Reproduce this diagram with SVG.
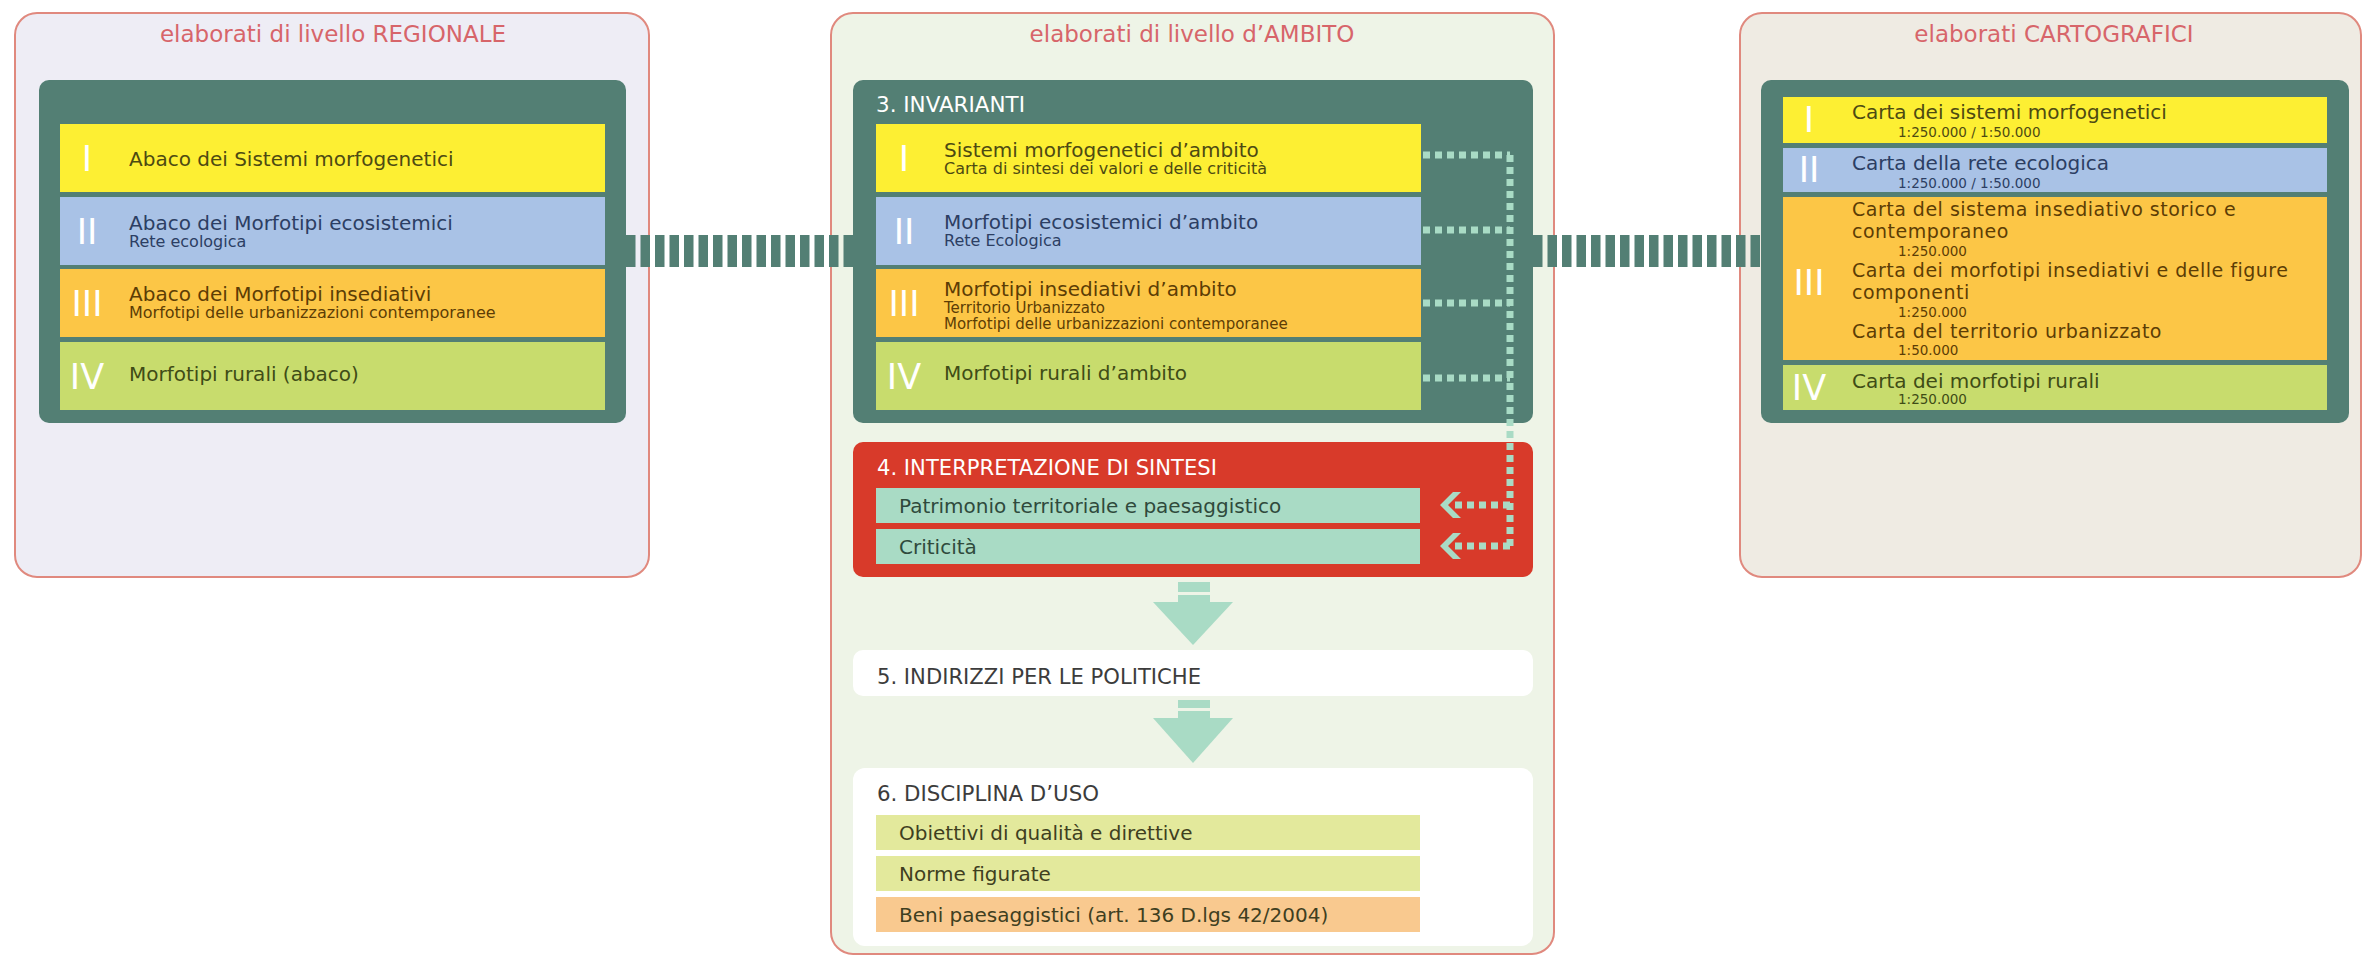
<svg xmlns="http://www.w3.org/2000/svg" width="2364" height="958" viewBox="0 0 2364 958">
<defs>
<style>
text{font-family:"DejaVu Sans","Liberation Sans",sans-serif;}
.panel{stroke:#e0897e;stroke-width:2;}
.ttl{font-size:23px;fill:#d7656a;text-anchor:middle;}
.dark{fill:#537f74;}
.yel{fill:#fdef33;}
.blu{fill:#a9c2e6;}
.ora{fill:#fcc646;}
.grn{fill:#c8dc6d;}
.mint{fill:#a9dbc5;}
.num{font-size:35px;fill:#ffffff;text-anchor:middle;}
.m{font-size:20px;}
.m3{font-size:19px;letter-spacing:0.5px;}
.s{font-size:16px;}
.s2{font-size:15px;}
.sc{font-size:13.5px;}
.hd{font-size:21px;fill:#ffffff;}
.hk{font-size:21px;fill:#3c3c3c;}
.ty{fill:#4d4a12;}
.tb{fill:#2c3e63;}
.to{fill:#5c3d05;}
.tg{fill:#3f4c16;}
.tm{fill:#2f4a3c;}
.tl{fill:#3f3f1f;}
.bar{stroke:#537f74;stroke-width:32;stroke-dasharray:9.5 5;fill:none;}
.md{stroke:#a9dbc5;stroke-width:7;stroke-dasharray:7 5;fill:none;}
</style>
</defs>
<rect width="2364" height="958" fill="#ffffff"/>

<g id="panel-regionale">
<rect class="panel" x="15" y="13" width="634" height="564" rx="22" fill="#eeedf5"/>
<text class="ttl" x="333" y="42">elaborati di livello REGIONALE</text>
<rect class="dark" x="39" y="80" width="587" height="343" rx="10"/>
<rect class="yel" x="60" y="124" width="545" height="68"/>
<rect class="blu" x="60" y="197" width="545" height="68"/>
<rect class="ora" x="60" y="269" width="545" height="68"/>
<rect class="grn" x="60" y="342" width="545" height="68"/>
<text class="num" x="87" y="171">I</text>
<text class="num" x="87" y="244">II</text>
<text class="num" x="87" y="316">III</text>
<text class="num" x="87" y="389">IV</text>
<text class="m ty" x="129" y="166">Abaco dei Sistemi morfogenetici</text>
<text class="m tb" x="129" y="230">Abaco dei Morfotipi ecosistemici</text>
<text class="s tb" x="129" y="247">Rete ecologica</text>
<text class="m to" x="129" y="301">Abaco dei Morfotipi insediativi</text>
<text class="s to" x="129" y="318">Morfotipi delle urbanizzazioni contemporanee</text>
<text class="m tg" x="129" y="381">Morfotipi rurali (abaco)</text>
</g>

<g id="panel-ambito">
<rect class="panel" x="831" y="13" width="723" height="941" rx="22" fill="#eef4e7"/>
<text class="ttl" x="1192" y="42">elaborati di livello d’AMBITO</text>
</g>

<g id="invarianti">
<rect class="dark" x="853" y="80" width="680" height="343" rx="10"/>
<text class="hd" x="876" y="112" textLength="149" lengthAdjust="spacingAndGlyphs">3. INVARIANTI</text>
<rect class="yel" x="876" y="124" width="545" height="68"/>
<rect class="blu" x="876" y="197" width="545" height="68"/>
<rect class="ora" x="876" y="269" width="545" height="68"/>
<rect class="grn" x="876" y="342" width="545" height="68"/>
<text class="num" x="904" y="171">I</text>
<text class="num" x="904" y="244">II</text>
<text class="num" x="904" y="316">III</text>
<text class="num" x="904" y="389">IV</text>
<text class="m ty" x="944" y="157">Sistemi morfogenetici d’ambito</text>
<text class="s ty" x="944" y="174">Carta di sintesi dei valori e delle criticità</text>
<text class="m tb" x="944" y="229">Morfotipi ecosistemici d’ambito</text>
<text class="s tb" x="944" y="246">Rete Ecologica</text>
<text class="m to" x="944" y="296">Morfotipi insediativi d’ambito</text>
<text class="s2 to" x="944" y="313">Territorio Urbanizzato</text>
<text class="s2 to" x="944" y="329">Morfotipi delle urbanizzazioni contemporanee</text>
<text class="m tg" x="944" y="380">Morfotipi rurali d’ambito</text>
</g>

<g id="interpretazione">
<rect x="853" y="442" width="680" height="135" rx="10" fill="#d83a2a"/>
<text class="hd" x="877" y="475" textLength="340" lengthAdjust="spacingAndGlyphs">4. INTERPRETAZIONE DI SINTESI</text>
<rect class="mint" x="876" y="488" width="544" height="35"/>
<rect class="mint" x="876" y="529" width="544" height="35"/>
<text class="m tm" x="899" y="513">Patrimonio territoriale e paesaggistico</text>
<text class="m tm" x="899" y="554">Criticità</text>
</g>

<g id="indirizzi">
<rect x="853" y="650" width="680" height="46" rx="10" fill="#ffffff"/>
<text class="hk" x="877" y="684" textLength="324" lengthAdjust="spacingAndGlyphs">5. INDIRIZZI PER LE POLITICHE</text>
</g>

<g id="disciplina">
<rect x="853" y="768" width="680" height="178" rx="12" fill="#ffffff"/>
<text class="hk" x="877" y="801" textLength="222" lengthAdjust="spacingAndGlyphs">6. DISCIPLINA D’USO</text>
<rect x="876" y="815" width="544" height="35" fill="#e3e99c"/>
<rect x="876" y="856" width="544" height="35" fill="#e3e99c"/>
<rect x="876" y="897" width="544" height="35" fill="#f9c98f"/>
<text class="m tl" x="899" y="840">Obiettivi di qualità e direttive</text>
<text class="m tl" x="899" y="881">Norme figurate</text>
<text class="m tl" x="899" y="922">Beni paesaggistici (art. 136 D.lgs 42/2004)</text>
</g>

<g id="panel-cartografici">
<rect class="panel" x="1740" y="13" width="621" height="564" rx="22" fill="#efebe3"/>
<text class="ttl" x="2054" y="42">elaborati CARTOGRAFICI</text>
<rect class="dark" x="1761" y="80" width="588" height="343" rx="10"/>
<rect class="yel" x="1783" y="97" width="544" height="46"/>
<rect class="blu" x="1783" y="148" width="544" height="44"/>
<rect class="ora" x="1783" y="197" width="544" height="163"/>
<rect class="grn" x="1783" y="365" width="544" height="45"/>
<text class="num" x="1809" y="132">I</text>
<text class="num" x="1809" y="182">II</text>
<text class="num" x="1809" y="295">III</text>
<text class="num" x="1809" y="400">IV</text>
<text class="m ty" x="1852" y="119">Carta dei sistemi morfogenetici</text>
<text class="sc ty" x="1898" y="137">1:250.000 / 1:50.000</text>
<text class="m tb" x="1852" y="170">Carta della rete ecologica</text>
<text class="sc tb" x="1898" y="188">1:250.000 / 1:50.000</text>
<text class="m3 to" x="1852" y="216">Carta del sistema insediativo storico e</text>
<text class="m3 to" x="1852" y="238">contemporaneo</text>
<text class="sc to" x="1898" y="256">1:250.000</text>
<text class="m3 to" x="1852" y="277">Carta dei morfotipi insediativi e delle figure</text>
<text class="m3 to" x="1852" y="299">componenti</text>
<text class="sc to" x="1898" y="317">1:250.000</text>
<text class="m3 to" x="1852" y="338">Carta del territorio urbanizzato</text>
<text class="sc to" x="1898" y="355">1:50.000</text>
<text class="m tg" x="1852" y="388">Carta dei morfotipi rurali</text>
<text class="sc tg" x="1898" y="404">1:250.000</text>
</g>

<g id="connectors">
<line class="bar" x1="626" y1="251" x2="853" y2="251"/>
<line class="bar" x1="1533" y1="251" x2="1761" y2="251"/>
<path class="md" d="M1423 155H1510M1423 230H1510M1423 303H1510M1423 378H1510M1510 155V546M1510 505H1454M1510 546H1454"/>
<polygon class="mint" points="1440,505 1453,492 1461,492 1448,505 1461,518 1453,518"/>
<polygon class="mint" points="1440,546 1453,533 1461,533 1448,546 1461,559 1453,559"/>
<g fill="#a9dbc5">
<rect x="1178" y="582" width="32" height="10"/>
<rect x="1178" y="595" width="32" height="8"/>
<polygon points="1153,602 1233,602 1193,645"/>
<rect x="1178" y="700" width="32" height="8"/>
<rect x="1178" y="711" width="32" height="8"/>
<polygon points="1153,718 1233,718 1193,763"/>
</g>
</g>
</svg>
